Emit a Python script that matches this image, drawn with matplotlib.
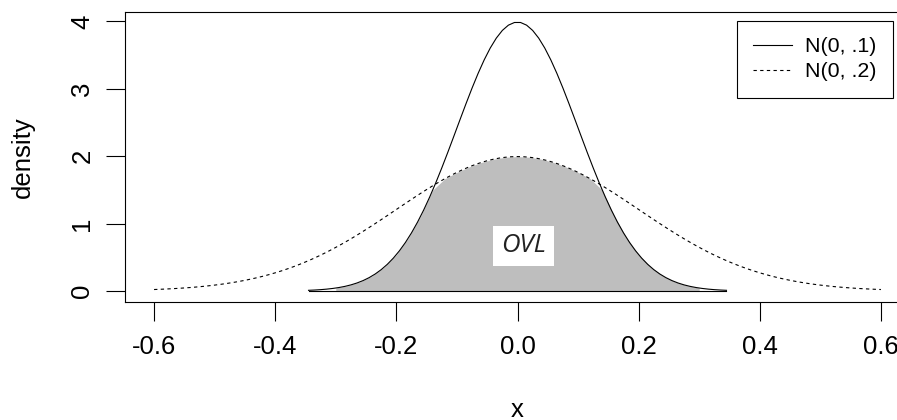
import numpy as np
import matplotlib
matplotlib.use("Agg")
import matplotlib.pyplot as plt
from matplotlib.lines import Line2D

# Data: the two normal distributions named in the legend
labels = ["N(0, .1)", "N(0, .2)"]
means = [0.0, 0.0]
sds = [0.1, 0.2]
x_from = [-0.345, -0.6]
x_to = [0.345, 0.6]
shade_from, shade_to = -0.3, 0.3
xticks = [-0.6, -0.4, -0.2, 0.0, 0.2, 0.4, 0.6]
yticks = [0, 1, 2, 3, 4]
ovl_label = "OVL"


def npdf(x, m, s):
    return np.exp(-0.5 * ((x - m) / s) ** 2) / (s * np.sqrt(2 * np.pi))


plt.rcParams['font.family'] = ['Liberation Sans', 'DejaVu Sans']

W, H = 897, 420
fig = plt.figure(figsize=(W / 100, H / 100), dpi=100)
L, R, T, B = 125, 910, 12, 302
ax = fig.add_axes([L / W, 1 - B / H, (R - L) / W, (B - T) / H])
ax.set_xlim(-0.648, 0.648)
ax.set_ylim(-0.163, 4.14)

# overlap shading
xs = np.arange(shade_from, shade_to + 1e-9, 0.02)
ymin = np.minimum(npdf(xs, means[0], sds[0]), npdf(xs, means[1], sds[1]))
ax.fill_between(xs, 0, ymin, color="#BEBEBE", linewidth=0, zorder=1)

styles = ["-", (0, (3.0, 3.0))]
for i in range(2):
    xx = np.arange(x_from[i], x_to[i] + 1e-9, 0.01)
    ax.plot(xx, npdf(xx, means[i], sds[i]), color="black", lw=0.8,
            linestyle=styles[i], zorder=2)
ax.plot([x_from[0], x_to[0]], [0, 0], color="black", lw=0.8, zorder=2)

ax.text(0.01, 0.67, ovl_label, fontsize=18.5, style="italic",
        family=["Open Sans", "DejaVu Sans"], ha="center", va="center",
        color="#222222",
        bbox=dict(boxstyle="square,pad=0.3", fc="white", ec="none"), zorder=3)

ax.set_xticks(xticks)
ax.set_xticklabels(["%.1f" % v for v in xticks])
ax.set_yticks(yticks)
ax.set_yticklabels([str(v) for v in yticks], rotation=90, va="center")
ax.tick_params(axis="both", labelsize=18.5, length=14, width=0.8, direction="out")
ax.tick_params(axis="x", pad=10)
ax.tick_params(axis="y", pad=8)
for sp in ax.spines.values():
    sp.set_linewidth(0.8)

fig.text(517 / W, 1 - 410 / H, "x", fontsize=18.5, ha="center", va="center")
fig.text(23 / W, 1 - 157 / H, "density", fontsize=18.5, ha="center", va="center",
         rotation=90)

handles = [Line2D([], [], color="black", lw=0.8, linestyle=styles[0]),
           Line2D([], [], color="black", lw=0.8, linestyle=styles[1])]
leg = ax.legend(handles, labels, loc="upper right",
                bbox_to_anchor=((893 - L) / (R - L), (B - 21) / (B - T)),
                borderaxespad=0, fancybox=False, framealpha=1,
                edgecolor="black", fontsize=15.4, handlelength=1.8,
                handletextpad=0.65, borderpad=0.75, labelspacing=0.3)
leg.get_frame().set_linewidth(0.8)

fig.savefig("out.png", dpi=100)
